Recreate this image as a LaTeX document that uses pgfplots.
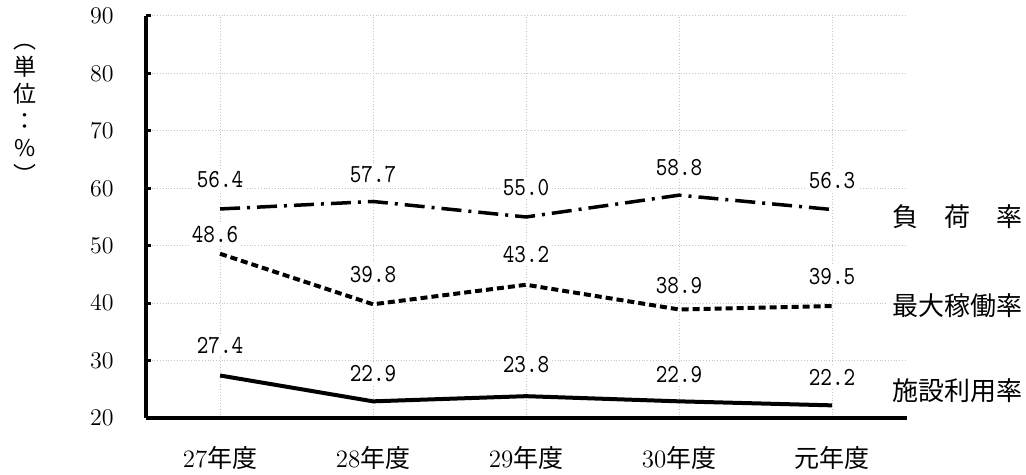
\documentclass[border=0pt]{standalone}
\usepackage{fontspec}
\usepackage{pgfplots}
\usepackage{pgfplotstable}
\pgfplotsset{compat=1.18}
\newfontfamily\cjk{Noto Sans CJK JP}
\newfontfamily\lblfont{lmmono10-regular.otf}[FakeStretch=0.85]

\pgfplotstableread{
x y dy dx
0 56.4 14.5 0
1 57.7 13.5 0
2 55.0 14.5 0
3 58.8 14 0
4 56.3 14.5 0
}\fuka
\pgfplotstableread{
x y dy dx
0 48.6 9.5 -2.5
1 39.8 15 0
2 43.2 15 0
3 38.9 11.75 0
4 39.5 14.5 0
}\saidai
\pgfplotstableread{
x y dy dx
0 27.4 15.25 0
1 22.9 13.75 0
2 23.8 16 0
3 22.9 13.25 0
4 22.2 14 0
}\shisetsu

\begin{document}
\begin{tikzpicture}
\begin{axis}[name=ax,
  scale only axis, width=380.5pt, height=201pt,
  xmin=-0.484, xmax=4.49, ymin=20, ymax=90,
  xtick={0,1,2,3,4},
  xticklabels={27{\cjk 年度},28{\cjk 年度},29{\cjk 年度},30{\cjk 年度},{\cjk 元年度}},
  ytick={20,30,...,90},
  axis lines*=left,
  axis line style={line width=2pt, black},
  tick align=inside,
  major tick length=2.5pt,
  xtick style={draw=none},
  ytick style={line width=1.5pt, black},
  grid=major,
  major grid style={gray!45, densely dotted, line width=0.5pt},
  yticklabel style={font=\fontsize{11.5}{12}\selectfont, xshift=-12.7pt},
  xticklabel style={font=\fontsize{12.5}{13}\selectfont, yshift=-10.5pt},
  clip=false,
  nodes near coords,
  point meta=explicit symbolic,
  visualization depends on={\thisrow{dy} \as \dy},
  visualization depends on={\thisrow{dx} \as \dx},
  every node near coord/.append style={anchor=center, yshift=\dy pt, xshift=\dx pt,
    fill=white, inner sep=1.5pt, text=black, font=\lblfont\fontsize{13}{13}\selectfont},
]
\addplot[black, line width=1.75pt, dash pattern=on 10pt off 3.5pt on 1.5pt off 3.5pt]
  table[x=x, y=y, meta=y] {\fuka};
\addplot[black, line width=2pt, dash pattern=on 3.5pt off 2pt]
  table[x=x, y=y, meta=y] {\saidai};
\addplot[black, line width=2pt]
  table[x=x, y=y, meta=y] {\shisetsu};

\node[anchor=west, fill=white, inner sep=2pt, font=\cjk\fontsize{13}{13}\selectfont]
  at (axis cs:4.366,55) {負　荷　率};
\node[anchor=west, fill=white, inner sep=2pt, font=\cjk\fontsize{13}{13}\selectfont]
  at (axis cs:4.366,39.6) {最大稼働率};
\node[anchor=west, fill=white, inner sep=2pt, font=\cjk\fontsize{13}{13}\selectfont]
  at (axis cs:4.366,24.8) {施設利用率};
\node[align=center, font=\cjk\fontsize{11.5}{13.5}\selectfont]
  at (rel axis cs:-0.159,0.7575) {︵\\単\\位\\：\\\%\\︶};
\end{axis}
\pgfresetboundingbox
\path[use as bounding box] ([shift={(-73pt,-28.5pt)}]ax.south west) rectangle ([shift={(59.5pt,8pt)}]ax.north east);
\end{tikzpicture}
\end{document}
